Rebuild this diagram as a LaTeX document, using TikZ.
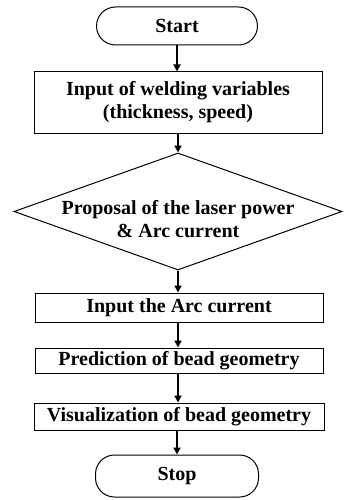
\documentclass[tikz,border=0pt]{standalone}
\usepackage{fontspec}
\setmainfont{Liberation Serif}
\usepackage{tikz}
\usetikzlibrary{arrows.meta,shapes.geometric}

\begin{document}
\begin{tikzpicture}[
    x=1pt, y=1pt,
    term/.style={draw, line width=1pt, rounded corners=19pt, minimum width=161pt, minimum height=38pt, align=center, font=\fontsize{20}{23}\selectfont\bfseries},
    proc/.style={draw, line width=1pt, minimum width=288pt, inner sep=0pt, align=center, font=\fontsize{20}{23}\selectfont\bfseries},
    decision/.style={draw, line width=1pt, diamond, minimum width=328pt, minimum height=117pt, inner sep=0pt},
    arr/.style={-{Triangle[length=7pt,width=7pt]}, line width=2.2pt},
]
\useasboundingbox (0,0) rectangle (344,-500);

% Terminals
\node[term] (start) at (177,-26) {Start};
\node[term, minimum width=163pt, minimum height=42pt] (stop) at (177,-476) {Stop};

% Steps
\node[proc, minimum height=61pt] (inp) at (178,-102.5) {Input of welding variables\\(thickness, speed)};
\node[decision] (prop) at (178,-211.5) {};
\node[font=\fontsize{20}{23}\selectfont\bfseries, align=center] (proptxt) at (178,-219) {Proposal of the laser power\\\& Arc current};
\node[proc, minimum height=29pt] (arc) at (179,-307.5) {Input the Arc current};
\node[proc, minimum height=25pt] (pred) at (179,-360.5) {Prediction of bead geometry};
\node[proc, minimum height=27pt, minimum width=290pt] (vis) at (179,-416.5) {Visualization of bead geometry};

% Flow
\draw[arr] (start) -- (start |- inp.north);
\draw[arr] (inp) -- (inp |- prop.north);
\draw[arr] (prop.south) -- (prop.south |- arc.north);
\draw[arr] (arc.south -| prop.south) -- (prop.south |- pred.north);
\draw[arr] (pred.south -| prop.south) -- (prop.south |- vis.north);
\draw[arr] (vis.south -| stop) -- (stop);

\end{tikzpicture}
\end{document}
